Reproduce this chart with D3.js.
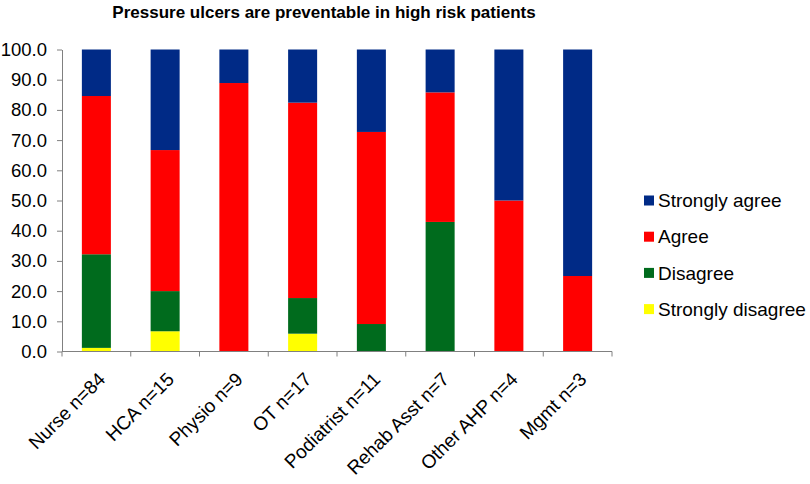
<!DOCTYPE html>
<html>
<head>
<meta charset="utf-8">
<script src="https://cdn.jsdelivr.net/npm/d3@7"></script>
<style>
  html, body { margin: 0; padding: 0; background: #fff; }
  svg { display: block; font-family: "Liberation Sans", Arial, sans-serif; }
</style>
</head>
<body>
<svg id="chart" width="810" height="484"></svg>
<script>
const categories = ["Nurse n=84", "HCA n=15", "Physio n=9", "OT n=17", "Podiatrist n=11", "Rehab Asst n=7", "Other AHP n=4", "Mgmt n=3"];
const stronglyDisagree = [1.2, 6.7, 0, 5.9, 0, 0, 0, 0];
const disagree         = [31.0, 13.3, 0, 11.8, 9.1, 42.9, 0, 0];
const agree            = [52.4, 46.7, 88.9, 64.7, 63.6, 42.9, 50.0, 25.0];
const stronglyAgree    = [15.4, 33.3, 11.1, 17.6, 27.3, 14.2, 50.0, 75.0];
const seriesNames = ["Strongly disagree", "Disagree", "Agree", "Strongly agree"];
const seriesColors = ["#ffff00", "#006b1d", "#ff0000", "#002a86"];
const yTicks = [0, 10, 20, 30, 40, 50, 60, 70, 80, 90, 100];
const chartTitle = "Pressure ulcers are preventable in high risk patients";

const rows = categories.map((c, i) => ({
  cat: c,
  "Strongly disagree": stronglyDisagree[i],
  "Disagree": disagree[i],
  "Agree": agree[i],
  "Strongly agree": stronglyAgree[i]
}));

const svg = d3.select("#chart");
const plotLeft = 62, plotRight = 612, plotTop = 49.5, plotBottom = 351.5;

const y = d3.scaleLinear().domain([0, 100]).range([plotBottom, plotTop]);
const pad = 0.578;
const x = d3.scaleBand().domain(categories).range([plotLeft, plotRight]).paddingInner(pad).paddingOuter(pad / 2);
const xEdge = d3.scaleBand().domain(categories).range([plotLeft, plotRight]).padding(0);
const color = d3.scaleOrdinal().domain(seriesNames).range(seriesColors);

const layers = d3.stack().keys(seriesNames)(rows);

svg.append("g").selectAll("g")
  .data(layers)
  .join("g")
  .attr("fill", d => color(d.key))
  .selectAll("rect")
  .data(d => d)
  .join("rect")
  .attr("x", d => x(d.data.cat))
  .attr("width", x.bandwidth())
  .attr("y", d => y(d[1]))
  .attr("height", d => Math.max(0, y(d[0]) - y(d[1])));

// Y axis
const yAxis = svg.append("g")
  .attr("transform", `translate(${plotLeft},0)`)
  .call(d3.axisLeft(y).tickValues(yTicks).tickFormat(d3.format(".1f")).tickSize(5).tickSizeOuter(0).tickPadding(10));
yAxis.selectAll("text").attr("font-size", 18.5).attr("fill", "#000").attr("font-family", "Liberation Sans, Arial, sans-serif");
yAxis.selectAll("line, path").attr("stroke", "#808080");

// X axis line and boundary ticks
const xg = svg.append("g");
xg.append("line").attr("x1", plotLeft).attr("x2", plotRight).attr("y1", plotBottom).attr("y2", plotBottom).attr("stroke", "#808080");
const edges = categories.map(c => xEdge(c)).concat([xEdge.range()[1]]);
xg.selectAll("line.tick").data(edges).join("line")
  .attr("class", "tick")
  .attr("x1", d => d).attr("x2", d => d)
  .attr("y1", plotBottom).attr("y2", plotBottom + 5)
  .attr("stroke", "#808080");

// X labels
xg.selectAll("text").data(categories).join("text")
  .attr("transform", d => `translate(${x(d) + x.bandwidth() / 2 + 10},${plotBottom + 29}) rotate(-45)`)
  .attr("text-anchor", "end")
  .attr("font-size", 19)
  .attr("fill", "#000")
  .text(d => d);

// Title
svg.append("text")
  .attr("x", 324).attr("y", 17.5)
  .attr("text-anchor", "middle")
  .attr("font-size", 17)
  .attr("font-weight", "bold")
  .attr("fill", "#000")
  .text(chartTitle);

// Legend (top to bottom: Strongly agree ... Strongly disagree)
const legendOrder = seriesNames.slice().reverse();
const lg = svg.append("g");
const item = lg.selectAll("g").data(legendOrder).join("g")
  .attr("transform", (d, i) => `translate(644,${200.5 + i * 36.2})`);
item.append("rect").attr("x", 0).attr("y", -5).attr("width", 10).attr("height", 10).attr("fill", d => color(d));
item.append("text").attr("x", 14).attr("y", 0).attr("dy", "0.35em")
  .attr("font-size", 19).attr("fill", "#000").text(d => d);
</script>
</body>
</html>
